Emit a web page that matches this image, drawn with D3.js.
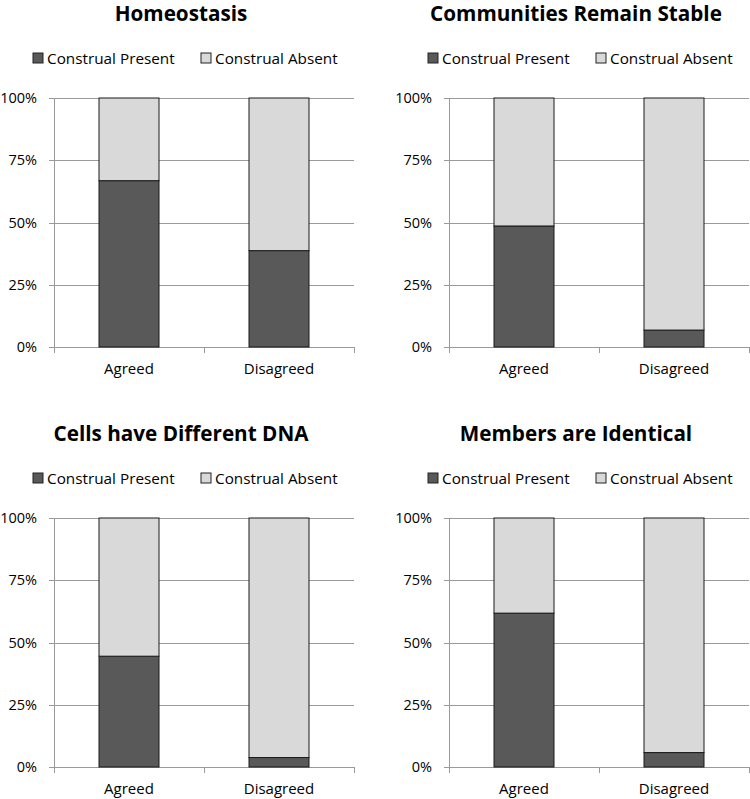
<!DOCTYPE html>
<html>
<head>
<meta charset="utf-8">
<script src="https://cdn.jsdelivr.net/npm/d3@7/dist/d3.min.js"></script>
<style>
  html, body { margin: 0; padding: 0; background: #fff; }
  svg { display: block; }
  text { font-family: "Open Sans", Lato, sans-serif; fill: #000; }
</style>
</head>
<body>
<svg id="chart" width="750" height="799"></svg>
<script>
// ---- data ----
const titles = ["Homeostasis", "Communities Remain Stable", "Cells have Different DNA", "Members are Identical"];
const categories = ["Agreed", "Disagreed"];
const seriesNames = ["Construal Present", "Construal Absent"];
const presentHomeostasis = [0.668, 0.387];
const presentCommunities = [0.486, 0.068];
const presentCells = [0.445, 0.038];
const presentMembers = [0.618, 0.058];
const yTicks = [0, 0.25, 0.5, 0.75, 1];
const yTickLabels = ["0%", "25%", "50%", "75%", "100%"];

const panelsPresent = [presentHomeostasis, presentCommunities, presentCells, presentMembers];
const colors = ["#595959", "#d9d9d9"];

const svg = d3.select("#chart");

const panelOffsets = [[0, 0], [395, 0], [0, 420], [395, 420]];

panelsPresent.forEach((present, i) => {
  const [ox, oy] = panelOffsets[i];
  const g = svg.append("g").attr("transform", `translate(${ox},${oy})`);

  const x = d3.scaleBand().domain(categories).range([54, 354]).padding(0);
  const y = d3.scaleLinear().domain([0, 1]).range([347, 98]);
  const barW = x.bandwidth() * 0.4;

  // title
  g.append("text")
    .attr("x", 181).attr("y", 21)
    .attr("text-anchor", "middle")
    .style("font-size", "20.7px").style("font-weight", "bold")
    .text(titles[i]);

  // legend
  const leg = [
    { name: seriesNames[0], color: colors[0], sx: 33, tx: 47 },
    { name: seriesNames[1], color: colors[1], sx: 201, tx: 215 }
  ];
  leg.forEach(l => {
    g.append("rect").attr("x", l.sx).attr("y", 53).attr("width", 10).attr("height", 10)
      .attr("fill", l.color).attr("stroke", "#222").attr("stroke-width", 1);
    g.append("text").attr("x", l.tx).attr("y", 63.5)
      .style("font-size", "15.3px").text(l.name);
  });

  // gridlines
  g.append("g").selectAll("line").data(yTicks).join("line")
    .attr("x1", 49).attr("x2", 354)
    .attr("y1", d => Math.round(y(d)) + 0.5).attr("y2", d => Math.round(y(d)) + 0.5)
    .attr("stroke", "#9a9a9a").attr("stroke-width", 1);

  // y axis line
  g.append("line").attr("x1", 54.5).attr("x2", 54.5).attr("y1", y(1)).attr("y2", y(0) + 0.5)
    .attr("stroke", "#9a9a9a");

  // y tick labels
  g.append("g").selectAll("text").data(yTicks).join("text")
    .attr("x", 37).attr("y", d => y(d)).attr("dy", "0.35em")
    .attr("text-anchor", "end").style("font-size", "14.5px")
    .text((d, k) => yTickLabels[k]);

  // x axis ticks at band boundaries
  const bounds = [x.range()[0], x(categories[1]), x.range()[1]];
  g.append("g").selectAll("line").data(bounds).join("line")
    .attr("x1", d => Math.round(d) + 0.5).attr("x2", d => Math.round(d) + 0.5)
    .attr("y1", Math.round(y(0))).attr("y2", Math.round(y(0)) + 6)
    .attr("stroke", "#9a9a9a");

  // stacked bars
  const rows = categories.map((c, k) => ({ cat: c, present: present[k], absent: 1 - present[k] }));
  const stack = d3.stack().keys(["present", "absent"])(rows);
  stack.forEach((layer, li) => {
    g.append("g").selectAll("rect").data(layer).join("rect")
      .attr("x", d => x(d.data.cat) + (x.bandwidth() - barW) / 2)
      .attr("width", barW)
      .attr("y", d => y(d[1]))
      .attr("height", d => y(d[0]) - y(d[1]))
      .attr("fill", colors[li])
      .attr("stroke", "#1a1a1a").attr("stroke-width", 1);
  });

  // x labels
  g.append("g").selectAll("text").data(categories).join("text")
    .attr("x", d => x(d) + x.bandwidth() / 2).attr("y", 374)
    .attr("text-anchor", "middle").style("font-size", "15px")
    .text(d => d);
});
</script>
</body>
</html>
